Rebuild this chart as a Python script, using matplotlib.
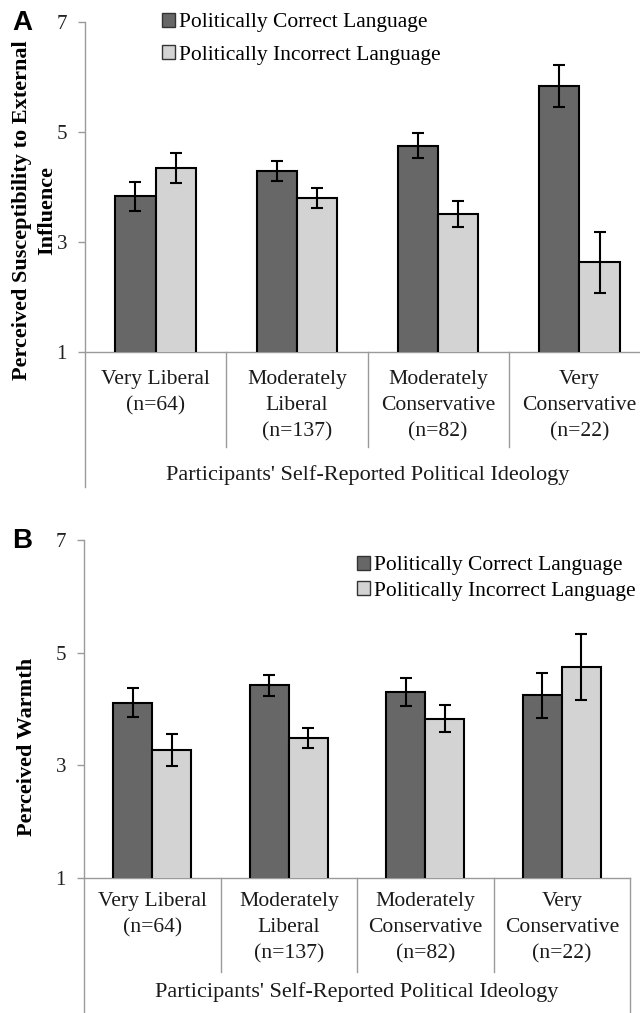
import matplotlib.pyplot as plt
import matplotlib.transforms as mtransforms
from matplotlib.patches import Patch
import numpy as np

# --- Data ---
categories = ['Very Liberal\n(n=64)', 'Moderately\nLiberal\n(n=137)',
              'Moderately\nConservative\n(n=82)', 'Very\nConservative\n(n=22)']
series_names = ['Politically Correct Language', 'Politically Incorrect Language']

# Panel A: perceived susceptibility to external influence
a_correct = [3.83, 4.29, 4.75, 5.83]
a_correct_err = [0.26, 0.18, 0.23, 0.38]
a_incorrect = [4.34, 3.80, 3.51, 2.63]
a_incorrect_err = [0.27, 0.18, 0.23, 0.56]

# Panel B: perceived warmth
b_correct = [4.11, 4.42, 4.30, 4.24]
b_correct_err = [0.26, 0.19, 0.25, 0.40]
b_incorrect = [3.27, 3.49, 3.83, 4.75]
b_incorrect_err = [0.28, 0.18, 0.24, 0.59]

y_ticks = [1, 3, 5, 7]

# --- Style ---
dark = '#676767'
light = '#d3d3d3'
axis_gray = '#9a9a9a'
plt.rcParams['font.family'] = 'serif'
plt.rcParams['font.serif'] = ['Liberation Serif', 'DejaVu Serif']

fig = plt.figure(figsize=(6.4, 10.13), dpi=100)
W, H = 640.0, 1013.0
label_size = 15.6


def panel(rect, corr, corr_err, inc, inc_err, label_pad, div_bottom,
          left_bottom, title_y, right_line):
    ax = fig.add_axes(rect)
    x = np.arange(len(categories))
    w = 0.285
    eb = dict(ecolor='black', elinewidth=1.5, capsize=4, capthick=1.5)
    ax.bar(x - w / 2, corr, w, yerr=corr_err, color=dark,
           edgecolor='black', linewidth=1.5, error_kw=eb, zorder=3)
    ax.bar(x + w / 2, inc, w, yerr=inc_err, color=light,
           edgecolor='black', linewidth=1.5, error_kw=eb, zorder=3)
    ax.set_ylim(1, 7)
    ax.set_xlim(-0.5, len(categories) - 0.5)
    ax.set_yticks(y_ticks)
    ax.tick_params(axis='y', length=5, width=1, color=axis_gray, labelsize=15,
                   pad=8, labelcolor='#222222')
    ax.set_xticks(x)
    ax.set_xticklabels(categories, fontsize=label_size, color='#1a1a1a')
    ax.tick_params(axis='x', length=0, pad=label_pad)
    for t in ax.get_xticklabels():
        t.set_linespacing(1.5)
    for s in ['top', 'right', 'left']:
        ax.spines[s].set_visible(False)
    ax.spines['bottom'].set_color(axis_gray)
    ax.spines['bottom'].set_linewidth(1)

    # category axis: left line, dividers, right line
    trans = mtransforms.blended_transform_factory(ax.transData, ax.transAxes)
    ax.plot([-0.5, -0.5], [left_bottom, 1], transform=trans, color=axis_gray,
            lw=1, clip_on=False, zorder=1)
    for d in x[:-1] + 0.5:
        ax.plot([d, d], [div_bottom, 0], transform=trans, color=axis_gray,
                lw=1, clip_on=False)
    if right_line:
        ax.plot([x[-1] + 0.5] * 2, [left_bottom, 0], transform=trans,
                color=axis_gray, lw=1, clip_on=False)
    ax.text(0.5, title_y, "Participants' Self-Reported Political Ideology",
            transform=ax.transAxes, ha='center', va='center',
            fontsize=label_size + 0.4, color='#1a1a1a')
    return ax


# Panel A
axA = panel([85 / W, 1 - 352 / H, 565 / W, 330 / H],
            a_correct, a_correct_err, a_incorrect, a_incorrect_err,
            13, -0.288, -0.41, -0.373, False)
# Panel B
axB = panel([84 / W, 1 - 878 / H, 546 / W, 338 / H],
            b_correct, b_correct_err, b_incorrect, b_incorrect_err,
            10, -0.278, -0.41, -0.337, True)

# y labels
fig.text(22 / W, 1 - 210 / H, 'Perceived Susceptibility to External',
         rotation=90, ha='center', va='center', fontsize=16, fontweight='bold')
fig.text(47 / W, 1 - 210 / H, 'Influence', rotation=90, ha='center',
         va='center', fontsize=16, fontweight='bold')
fig.text(27 / W, 1 - 747 / H, 'Perceived Warmth', rotation=90, ha='center',
         va='center', fontsize=16, fontweight='bold')

# panel letters
fig.text(22 / W, 1 - 23 / H, 'A', ha='center', va='center', fontsize=20,
         fontweight='bold', family=['Liberation Sans', 'DejaVu Sans'])
fig.text(22 / W, 1 - 541 / H, 'B', ha='center', va='center', fontsize=20,
         fontweight='bold', family=['Liberation Sans', 'DejaVu Sans'])

# legends
handles = [Patch(facecolor=dark, edgecolor='#333333', linewidth=1),
           Patch(facecolor=light, edgecolor='#333333', linewidth=1)]
fig.legend(handles, series_names, loc='upper left',
           bbox_to_anchor=(162 / W, 1 - 13 / H), frameon=False, fontsize=15.5,
           handlelength=0.6, handleheight=0.6, handletextpad=0.2,
           borderpad=0, borderaxespad=0, labelspacing=0.6)
fig.legend(handles, series_names, loc='upper left',
           bbox_to_anchor=(357 / W, 1 - 556 / H), frameon=False, fontsize=15.5,
           handlelength=0.6, handleheight=0.6, handletextpad=0.2,
           borderpad=0, borderaxespad=0, labelspacing=0.28)

plt.savefig('out.png', dpi=100)
